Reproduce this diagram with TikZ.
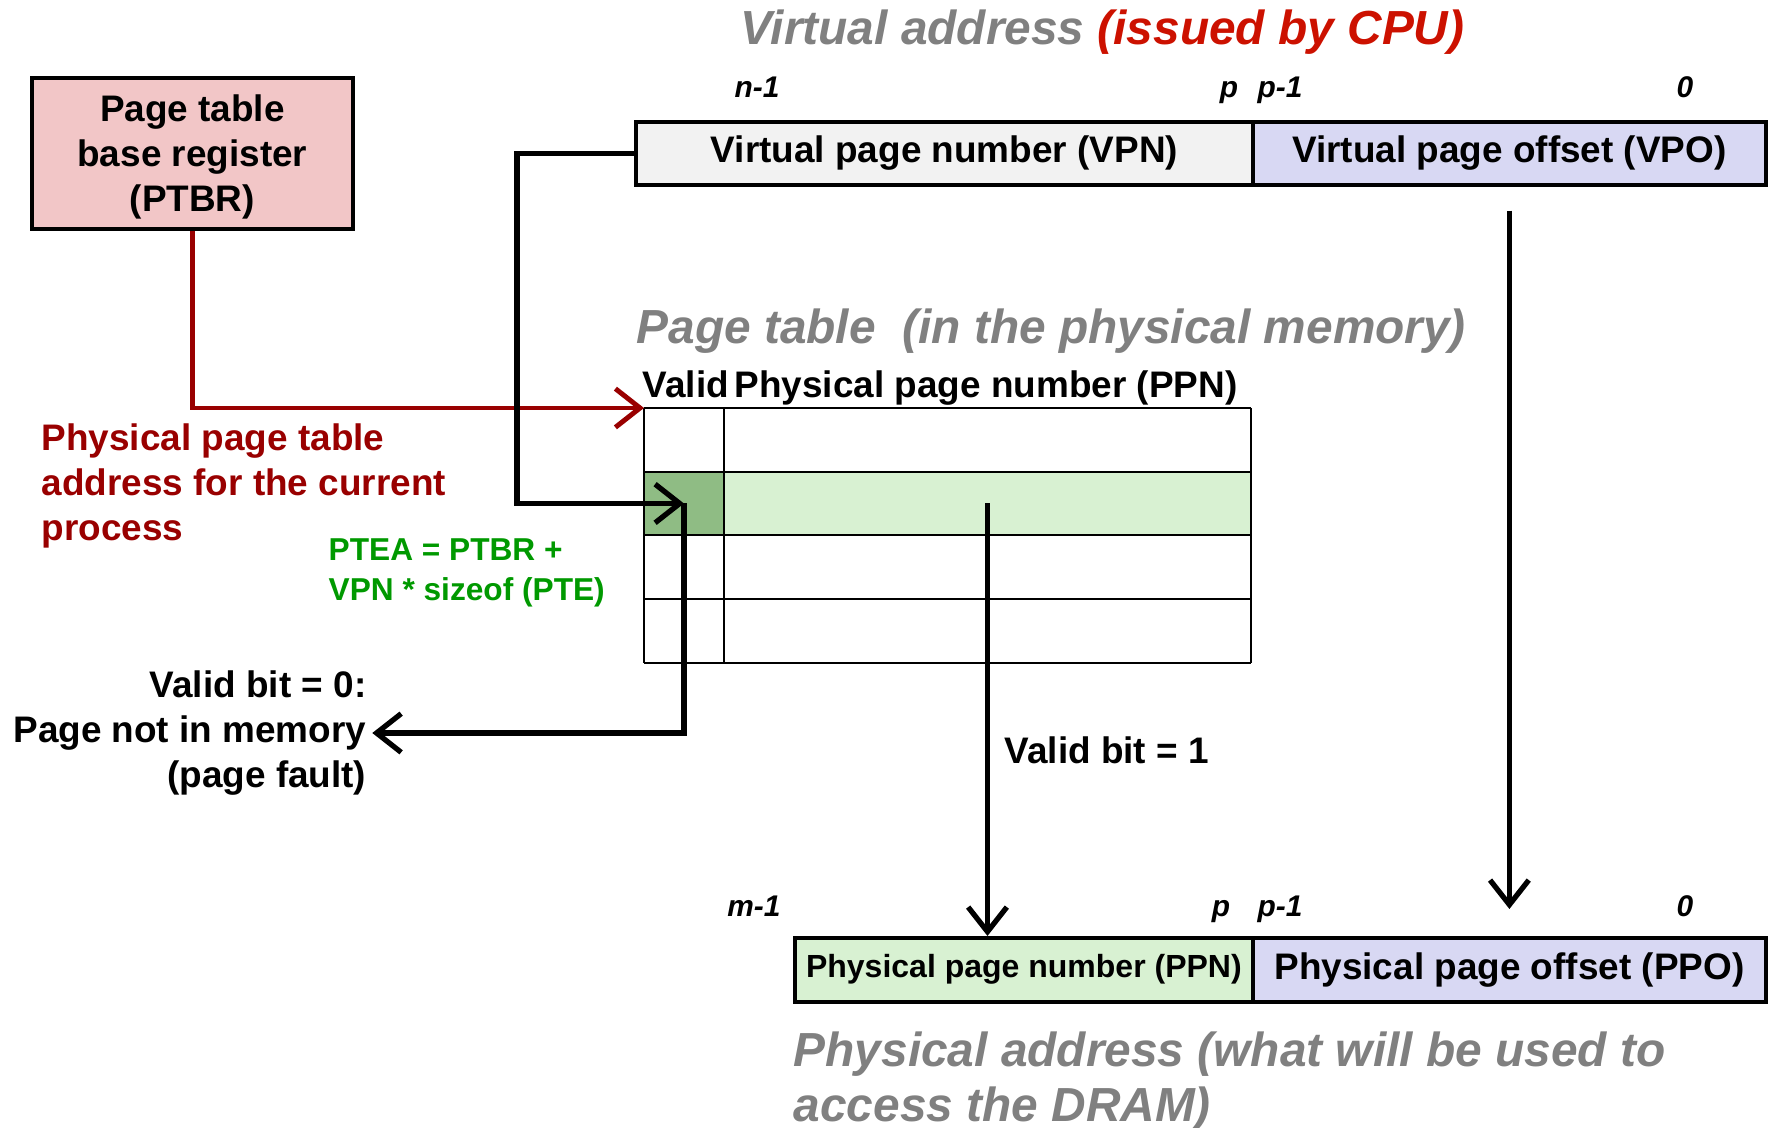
\documentclass[tikz,border=0pt]{standalone}
\usepackage{fontspec}
\setmainfont{Liberation Sans}
\usepackage{xcolor}
\usepackage{tikz}
\usetikzlibrary{arrows.meta}

\definecolor{ptbrpink}{RGB}{242,198,199}
\definecolor{vpngrey}{RGB}{242,242,242}
\definecolor{offblue}{RGB}{216,216,243}
\definecolor{ppngreen}{RGB}{216,241,210}
\definecolor{validgreen}{RGB}{143,188,132}
\definecolor{darkred}{RGB}{153,0,0}
\definecolor{cpured}{RGB}{204,17,0}
\definecolor{titlegrey}{RGB}{128,128,128}
\definecolor{pteagreen}{RGB}{0,153,0}

\begin{document}
\begin{tikzpicture}[x=0.01cm,y=-0.01cm,
  box/.style={draw,line width=1pt,inner sep=0pt,anchor=north west,
    font=\fontsize{10.5}{12.8}\selectfont\bfseries},
  lbl/.style={inner sep=0pt,font=\fontsize{10.5}{12.8}\selectfont\bfseries},
  bitlbl/.style={inner sep=0pt,anchor=base,font=\fontsize{8.5}{10}\selectfont\bfseries\itshape},
  heading/.style={inner sep=0pt,text=titlegrey,font=\fontsize{13.6}{15.6}\selectfont\bfseries\itshape},
  arr/.style={line width=1.5pt,-{Straight Barb[length=7pt,width=11pt]}}]
\useasboundingbox (0,0) rectangle (1771,1128);

% page table base register
\node[box,fill=ptbrpink,minimum width=3.21cm,minimum height=1.51cm,align=center] (ptbr) at (30,76)
  {\rule{0pt}{9.8pt}Page table\\base register\\(PTBR)};
\node[lbl,text=darkred,anchor=north west,align=left] (ptaddr) at (41,423)
  {Physical page table\\address for the current\\process};

% virtual address
\node[heading,anchor=base west] (vatitle) at (740,45) {Virtual address \textcolor{cpured}{(issued by CPU)}};
\node[bitlbl] (vn1) at (757,98) {n-1};
\node[bitlbl] (vp) at (1229,98) {p};
\node[bitlbl] (vp1) at (1280,98) {p-1};
\node[bitlbl] (v0) at (1685,98) {0};
\node[box,fill=vpngrey,minimum width=6.17cm,minimum height=0.63cm] (vpn) at (634,120) {Virtual page number (VPN)};
\node[box,fill=offblue,minimum width=5.13cm,minimum height=0.63cm] (vpo) at (1251,120) {Virtual page offset (VPO)};

% page table
\node[heading,anchor=base west] (pttitle) at (636,344) {Page table~ (in the physical memory)};
\node[lbl,anchor=base west] (validhd) at (642,398) {Valid};
\node[lbl,anchor=base west] (ppnhd) at (734,398) {Physical page number (PPN)};
\node[fill=validgreen,inner sep=0pt,minimum width=0.8cm,minimum height=0.635cm] (vcell) at (684,503.5) {};
\node[fill=ppngreen,inner sep=0pt,minimum width=5.27cm,minimum height=0.635cm] (pcell) at (987.5,503.5) {};
\foreach \y in {408,472,535,599,663}
  \draw[line width=0.8pt] (644,\y) -- (1251,\y);
\foreach \x in {644,724,1251}
  \draw[line width=0.8pt] (\x,408) -- (\x,663);
\coordinate (tab) at (644,408);

\node[lbl,text=pteagreen,anchor=north west,align=left,font=\fontsize{9}{11.4}\selectfont\bfseries] (ptea) at (328,538)
  {PTEA = PTBR +\\VPN * sizeof (PTE)};
\node[lbl,anchor=north east,align=right] (fault) at (367,670)
  {Valid bit = 0:\\Page not in memory\\(page fault)};
\node[lbl,anchor=base west] (hit) at (1004,764) {Valid bit = 1};

% physical address
\node[bitlbl] (pm1) at (754,917) {m-1};
\node[bitlbl] (pp) at (1221,917) {p};
\node[bitlbl] (pp1) at (1280,917) {p-1};
\node[bitlbl] (p0) at (1685,917) {0};
\node[box,fill=ppngreen,minimum width=4.58cm,minimum height=0.64cm,font=\fontsize{9.1}{11}\selectfont\bfseries] (ppn) at (793,936) {Physical page number (PPN)};
\node[box,fill=offblue,minimum width=5.13cm,minimum height=0.64cm] (ppo) at (1251,936) {Physical page offset (PPO)};
\node[heading,anchor=north west,align=left] (patitle) at (793,1031)
  {Physical address (what will be used to\\access the DRAM)};

% connectors
\draw[arr,darkred,line width=1.4pt] (ptbr.south) |- (tab);
\draw[arr] (vpn.west) -- ++(-117,0) |- (vcell.center);
\draw[arr,shorten >=1.5pt] (vcell.center) |- (fault.east);
\draw[arr] (pcell.center) -- (pcell.center |- ppn.north);
\draw[arr,shorten <=0.24cm,shorten >=0.27cm] (vpo.south) -- (ppo.north);
\end{tikzpicture}
\end{document}
